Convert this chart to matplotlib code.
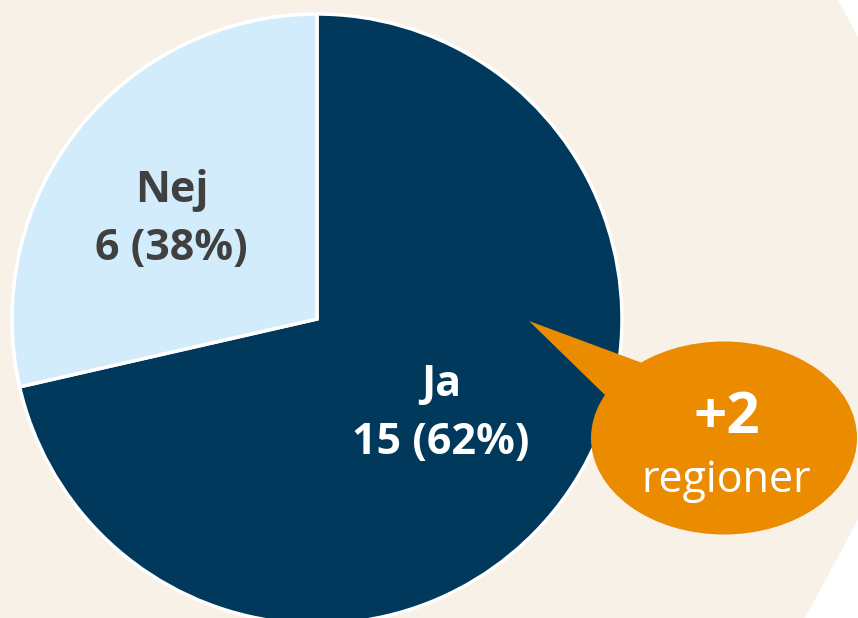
import numpy as np
import matplotlib.pyplot as plt
from matplotlib.patches import Polygon, Ellipse

# ========== data ==========
categories = ["Ja", "Nej"]
counts = [15, 6]
percent_labels = ["62%", "38%"]
callout_value = "+2"
callout_text = "regioner"

colors = ["#00395b", "#d3ecfc"]
text_colors = ["white", "#404040"]
beige = "#f8f1e8"
orange = "#eb8b00"

W, H = 858, 618
plt.rcParams['font.family'] = ['Open Sans', 'DejaVu Sans']

fig = plt.figure(figsize=(W / 100, H / 100), dpi=100)
fig.patch.set_facecolor("white")
ax = fig.add_axes([0, 0, 1, 1])

def py(y):  # pixel y (from top) -> data y
    return H - y

# hexagon-like background
ax.add_patch(Polygon([(0, py(0)), (838, py(0)), (988, py(278)), (805, py(618)), (0, py(618))],
                     closed=True, facecolor=beige, edgecolor="none", zorder=0))

# ========== pie ==========
cx, cy, r = 317, py(319), 305
wedges, _ = ax.pie(counts, colors=colors, startangle=90, counterclock=False,
                   center=(cx, cy), radius=r,
                   wedgeprops=dict(edgecolor="white", linewidth=2.5))
for w in wedges:
    w.set_zorder(2)

# label block placed near the wedge mid-angle, with small pixel nudges
nudges = [(-7, 10), (-14, -5)]
for w, cat, n, pct, tc, (nx, ny) in zip(wedges, categories, counts, percent_labels, text_colors, nudges):
    mid = np.deg2rad((w.theta1 + w.theta2) / 2)
    x = cx + 0.55 * r * np.cos(mid) + nx
    y = cy + 0.55 * r * np.sin(mid) + ny
    ax.text(x, y + 29, cat, ha="center", va="center", fontsize=31, fontweight="bold", color=tc, zorder=5)
    ax.text(x, y - 29, f"{n} ({pct})", ha="center", va="center", fontsize=31, fontweight="bold", color=tc, zorder=5)

# ========== callout ==========
ax.add_patch(Polygon([(529, py(321)), (645, py(364)), (605, py(395))], closed=True,
                     facecolor=orange, edgecolor="none", zorder=3))
ax.add_patch(Ellipse((724, py(438)), 266, 193, facecolor=orange, edgecolor="none", zorder=3))
ax.text(727, py(418), callout_value, ha="center", va="center", fontsize=42, fontweight="bold", color="white", zorder=5)
ax.text(726, py(481), callout_text, ha="center", va="center", fontsize=31, color="white", zorder=5)

ax.set_xlim(0, W)
ax.set_ylim(0, H)
ax.set_aspect("auto")
ax.axis("off")

fig.savefig("out.png", dpi=100, facecolor="white")
